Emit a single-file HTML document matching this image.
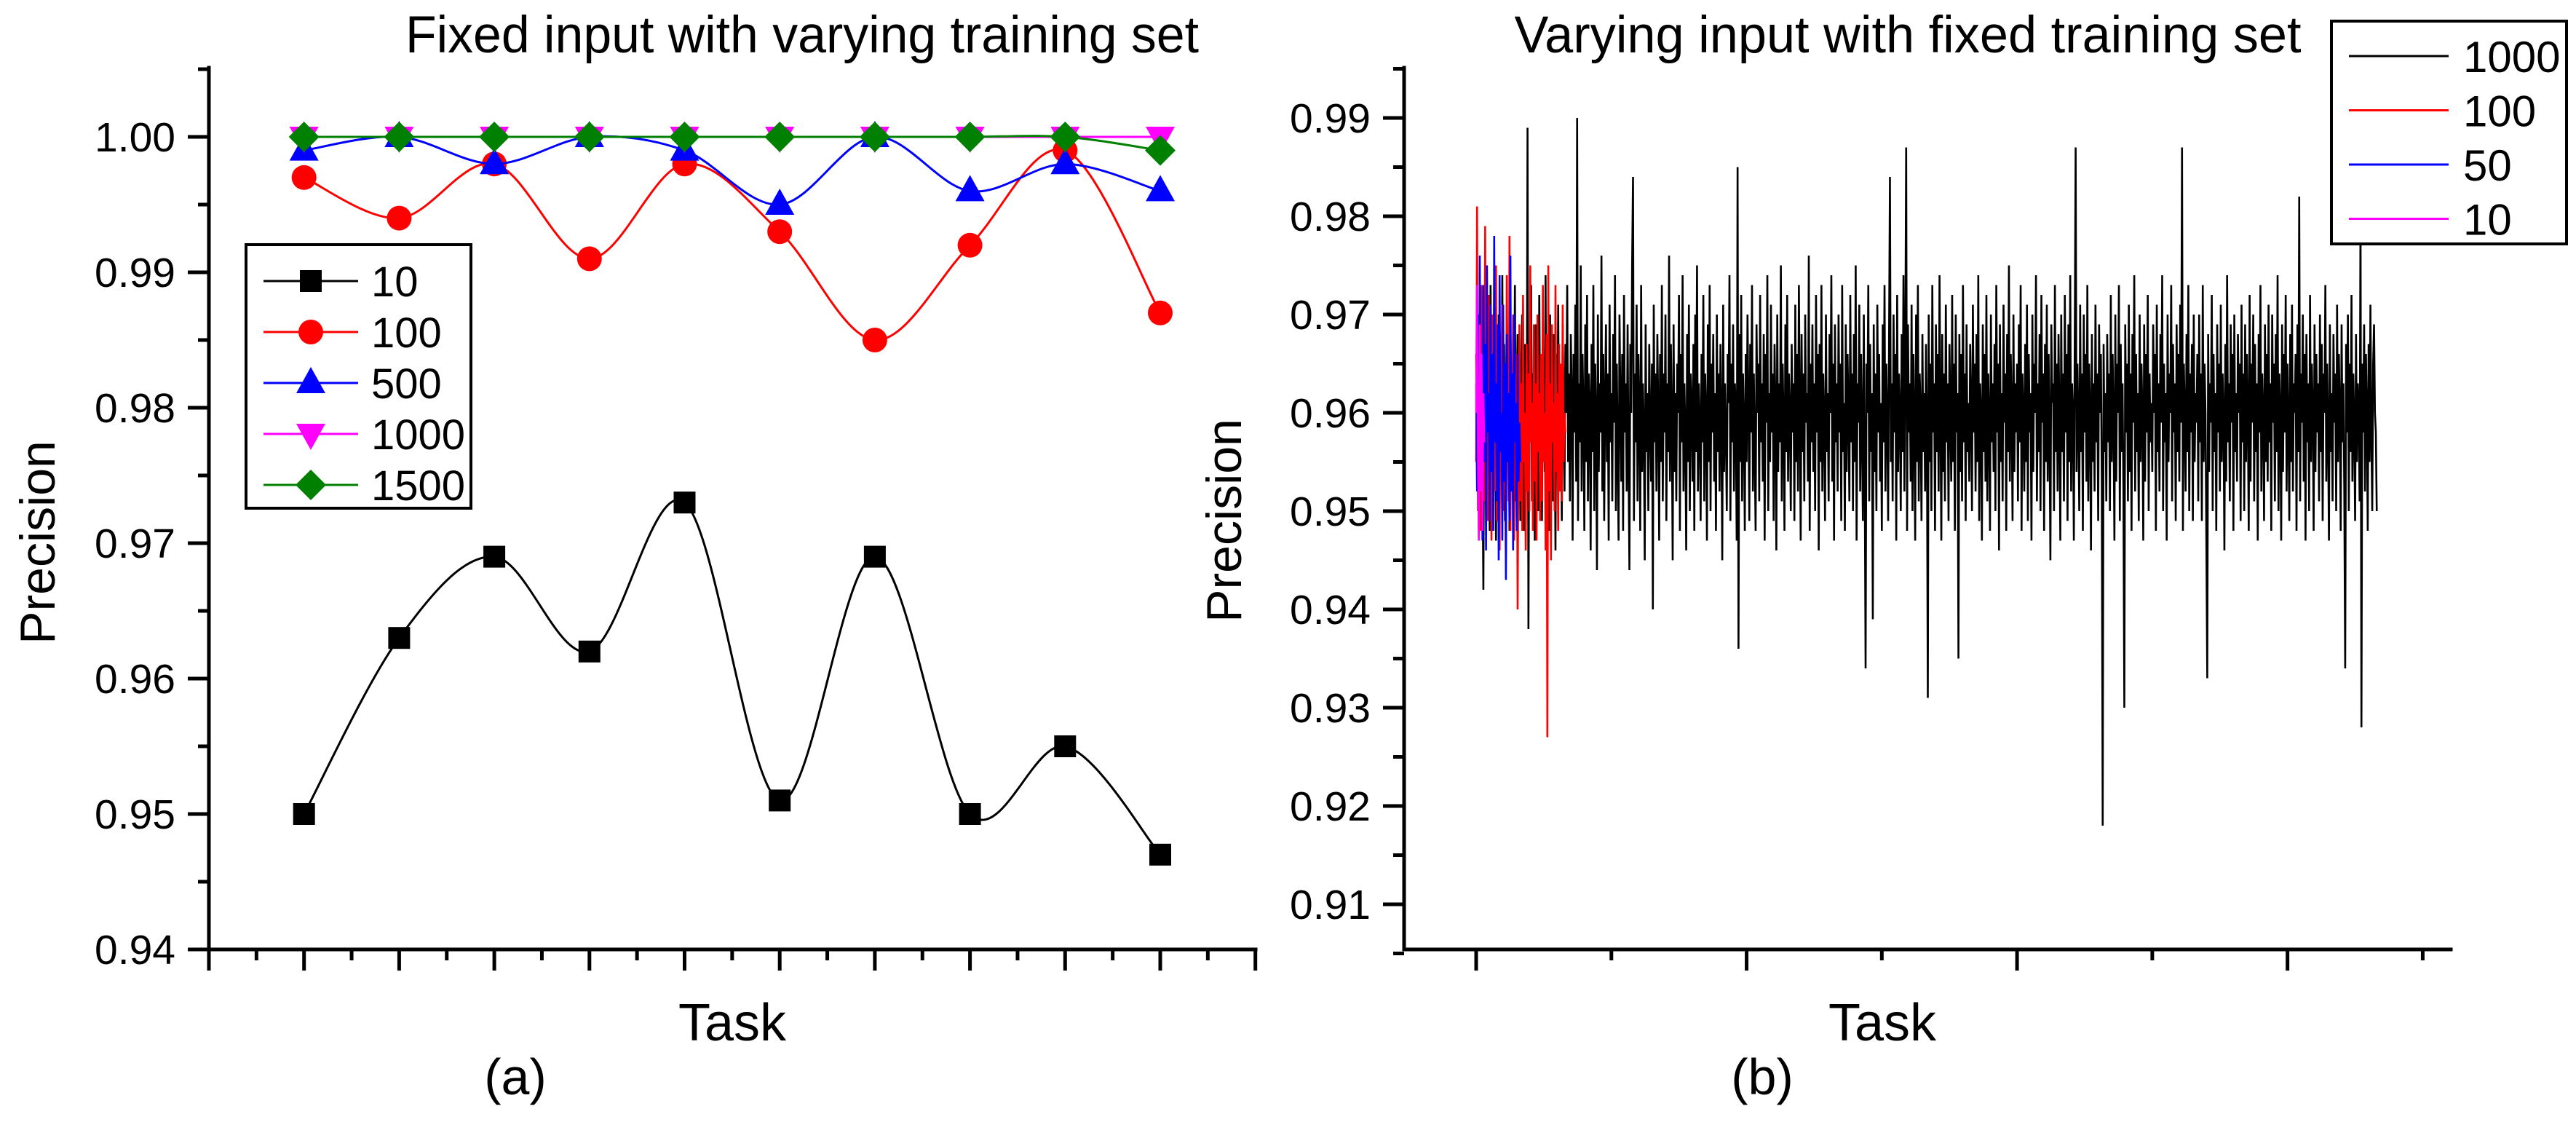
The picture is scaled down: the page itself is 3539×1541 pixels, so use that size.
<!DOCTYPE html>
<html><head><meta charset="utf-8"><style>
html,body{margin:0;padding:0;background:#fff;}
svg{display:block;font-family:"Liberation Sans",Arial,sans-serif;}
</style></head><body>
<svg id="fig" width="3539" height="1541" viewBox="0 0 3539 1541" xmlns="http://www.w3.org/2000/svg"></svg>
<script>
// ---------- Chart (a) data ----------
const tasksA = [1,2,3,4,5,6,7,8,9,10];
const seriesA_names = ["10","100","500","1000","1500"];
const s10   = [0.950,0.963,0.969,0.962,0.973,0.951,0.969,0.950,0.955,0.947];
const s100  = [0.997,0.994,0.998,0.991,0.998,0.993,0.985,0.992,0.999,0.987];
const s500  = [0.999,1.000,0.998,1.000,0.999,0.995,1.000,0.996,0.998,0.996];
const s1000 = [1.000,1.000,1.000,1.000,1.000,1.000,1.000,1.000,1.000,1.000];
const s1500 = [1.000,1.000,1.000,1.000,1.000,1.000,1.000,1.000,1.000,0.999];
const yTicksA = [0.94,0.95,0.96,0.97,0.98,0.99,1.00];
const yTickLabelsA = ["0.94","0.95","0.96","0.97","0.98","0.99","1.00"];

// ---------- Chart (b) data (values in thousandths above 0.903) ----------
const b1000 =
"63505844614766523960556948645745705362496658446351674760557150644658685261456657496354704859655162466067534564584986356255704861574466526347695560466458517149625645675360486557436352685061554666584964"+
"57705261486559446355685087466054724963574566526948615843645370476256416751605573496346586652614468545948655671476253446758506345695560496652416457728146615468486357457051605542665359476456506237685461"+
"49655744635270486155674660537350645642665159486257694563547149605543655268476158506445675372496056466354694861574466527047625565505945675361496456426851605547635871466254664960574482336552694861564563"+
"52675846645570496153456657624869546050654463567147595268556146645743675160547248625645665369506157476455604668526349705744655361486756595073456254665160476955634364527049615646675359486557715062446654"+
"60496755624670535845665163574869546147655272446056684963554667523162577048645359366651614768556350584566547049625746648152604867556344695161574765537149628445665560506847635644675270486157466553594964"+
"56286752624770556045665363497157446551614868546046645750695262456755593265516348705461466653585064574768556249655271466057446653635069486156456754605164477055624366525948685661456553725063574667516055"+
"62486654704561574964526846635559446751625771486053654769566145645268506355426658604770536249655644675361486955634666527149605744648451625647685361456755635070486257436552604968546146665763501564535948"+
"65546147695263564467506257704664536049276655624868516145655671496353594667526257446650635569476154585166576345685360496556714762545944675261577048645560466653635068568445625749655370476155644667525956"+
"63486754614670526257443065516056694763535945665562496852615743645071546048665663456753595065576246685461476652635745695062566748645360446555704961574666526350685460456756624865537147615744665163556949"+
"62564665526849605763456653794861566750634465546047695262574566516355604867536446615770506255446653594865566147685263574566546049316455674762536950615646655260574878256255664963574564526855476266575547";
const b100 = [0.955,0.981,0.950,0.969,0.962,0.948,0.973,0.957,0.964,0.951,0.979,0.955,0.967,0.949,0.972,0.958,0.961,0.947,0.970,0.954,0.966,0.952,0.975,0.949,0.963,0.957,0.946,0.968,0.953,0.971,0.950,0.962,0.956,0.945,0.974,0.959,0.951,0.978,0.948,0.964,0.955,0.970,0.947,0.961,0.953,0.966,0.940,0.958,0.969,0.951,0.963,0.948,0.972,0.955,0.960,0.946,0.967,0.952,0.964,0.950,0.975,0.957,0.961,0.948,0.969,0.953,0.963,0.947,0.970,0.956,0.962,0.949,0.966,0.951,0.973,0.955,0.960,0.946,0.968,0.927,0.975,0.952,0.963,0.945,0.969,0.957,0.961,0.950,0.973,0.954,0.962,0.948,0.967,0.952,0.965,0.951,0.971,0.955,0.960,0.958];
const b50 = [0.963,0.952,0.970,0.950,0.976,0.956,0.961,0.947,0.973,0.955,0.967,0.946,0.975,0.958,0.962,0.949,0.971,0.954,0.966,0.948,0.978,0.957,0.963,0.951,0.969,0.945,0.974,0.956,0.960,0.947,0.971,0.953,0.965,0.943,0.968,0.955,0.962,0.949,0.976,0.952,0.964,0.946,0.970,0.957,0.961,0.948,0.966,0.953,0.959,0.955];
const b10 = [0.960,0.973,0.955,0.947,0.969,0.952,0.966,0.948,0.962,0.957];
const yTicksB = [0.91,0.92,0.93,0.94,0.95,0.96,0.97,0.98,0.99];
const yTickLabelsB = ["0.91","0.92","0.93","0.94","0.95","0.96","0.97","0.98","0.99"];
const xTicksB = [0,150,300,450,600,750,900,1050];

const NS = "http://www.w3.org/2000/svg";
const svg = document.getElementById("fig");
function mk(tag, attrs, parent){
  const e = document.createElementNS(NS, tag);
  for (const k in attrs) e.setAttribute(k, attrs[k]);
  (parent||svg).appendChild(e);
  return e;
}
const xA = t => 287 + t*130.7;
const yA = v => 188 + (1.00 - v)*18600;
const xB = i => 2028 + i*1.2385;
const yB = v => 162 + (0.99 - v)*13500;

// ---------- Panel A ----------
const gA = mk("g", {});



let t = mk("text", {x:1102, y:72, "font-size":71, "text-anchor":"middle", textLength:1090, lengthAdjust:"spacingAndGlyphs"}, gA);
t.textContent = "Fixed input with varying training set";



let ax = mk("path", {d:"M287 93 L287 1304 L1725 1304", fill:"none", stroke:"#000", "stroke-width":5, "stroke-linecap":"square"}, gA);


for (let i=0;i<yTicksA.length;i++){
  const y = yA(yTicksA[i]);
  const tk = mk("line", {x1:258, x2:287, y1:y, y2:y, stroke:"#000", "stroke-width":5}, gA);
  
  
  const lb = mk("text", {x:241, y:y+20, "font-size":57, "text-anchor":"end"}, gA);
  lb.textContent = yTickLabelsA[i];
  
  
  const ym = yA(yTicksA[i]+0.005);
  if (ym > 95){
    const mt = mk("line", {x1:272, x2:287, y1:ym, y2:ym, stroke:"#000", "stroke-width":5}, gA);
    
    
  }
}
for (let k=0;k<=11;k++){
  const x = xA(k);
  const tk = mk("line", {x1:x, x2:x, y1:1304, y2:1333, stroke:"#000", "stroke-width":5}, gA);
  
  
  if (k<11){
    const xm = xA(k+0.5);
    const mt = mk("line", {x1:xm, x2:xm, y1:1304, y2:1319, stroke:"#000", "stroke-width":5}, gA);
    
    
  }
}
t = mk("text", {x:75, y:745, "font-size":68, "text-anchor":"middle", transform:"rotate(-90 75 745)"}, gA);
t.textContent = "Precision";


t = mk("text", {x:1006, y:1429, "font-size":72, "text-anchor":"middle"}, gA);
t.textContent = "Task";


t = mk("text", {x:708, y:1503, "font-size":70, "text-anchor":"middle"}, gA);
t.textContent = "(a)";



function smoothPath(xs, ys){
  let d = "M"+xs[0]+" "+ys[0];
  for (let i=0;i<xs.length-1;i++){
    const x0 = xs[Math.max(i-1,0)], y0 = ys[Math.max(i-1,0)];
    const x1 = xs[i], y1 = ys[i], x2 = xs[i+1], y2 = ys[i+1];
    const x3 = xs[Math.min(i+2,xs.length-1)], y3 = ys[Math.min(i+2,xs.length-1)];
    const c1x = x1+(x2-x0)/6, c1y = y1+(y2-y0)/6;
    const c2x = x2-(x3-x1)/6, c2y = y2-(y3-y1)/6;
    d += " C"+c1x+" "+c1y+" "+c2x+" "+c2y+" "+x2+" "+y2;
  }
  return d;
}
function marker(type, cx, cy, color, parent){
  let m;
  if (type==="square") m = mk("rect", {x:cx-15, y:cy-15, width:30, height:30, fill:color}, parent);
  else if (type==="circle") m = mk("circle", {cx:cx, cy:cy, r:17, fill:color}, parent);
  else if (type==="up") m = mk("polygon", {points:(cx-20)+","+(cy+14)+" "+(cx+20)+","+(cy+14)+" "+cx+","+(cy-22), fill:color}, parent);
  else if (type==="down") m = mk("polygon", {points:(cx-20)+","+(cy-14)+" "+(cx+20)+","+(cy-14)+" "+cx+","+(cy+22), fill:color}, parent);
  else m = mk("polygon", {points:(cx-21)+","+cy+" "+cx+","+(cy-21)+" "+(cx+21)+","+cy+" "+cx+","+(cy+21), fill:color}, parent);
  return m;
}
const seriesA = [s10, s100, s500, s1000, s1500];
const colorsA = ["#000000","#ff0000","#0000ff","#ff00ff","#008000"];
const markersA = ["square","circle","up","down","diamond"];
const slugA = ["s10","s100","s500","s1000","s1500"];
for (let s=0;s<seriesA.length;s++){
  const g = mk("g", {}, gA);
  
  
  const xs = tasksA.map(xA), ys = seriesA[s].map(yA);
  const p = mk("path", {d:smoothPath(xs,ys), fill:"none", stroke:colorsA[s], "stroke-width":3}, g);
  
  
  for (let i=0;i<xs.length;i++){
    const m = marker(markersA[s], xs[i], ys[i], colorsA[s], g);
    
    
  }
}
const lgA = mk("g", {}, gA);


let bx = mk("rect", {x:338, y:336, width:309, height:362, fill:"#fff", stroke:"#000", "stroke-width":4}, lgA);


for (let s=0;s<seriesA_names.length;s++){
  const y = 386 + s*70;
  const e = mk("g", {}, lgA);
  
  
  mk("line", {x1:362, x2:492, y1:y, y2:y, stroke:colorsA[s], "stroke-width":3}, e);
  marker(markersA[s], 427, y, colorsA[s], e);
  const lt = mk("text", {x:510, y:y+21, "font-size":58}, e);
  lt.textContent = seriesA_names[s];
}

// ---------- Panel B ----------
const gB = mk("g", {});


t = mk("text", {x:2621, y:72, "font-size":71, "text-anchor":"middle", textLength:1081, lengthAdjust:"spacingAndGlyphs"}, gB);
t.textContent = "Varying input with fixed training set";



const black = [];
for (let i=0;i+1<b1000.length;i+=2) black.push(0.903 + parseInt(b1000.substr(i,2),10)/1000);
const seriesB = [black, b100, b50, b10];
const colorsB = ["#000000","#ff0000","#0000ff","#ff00ff"];
const namesB = ["1000","100","50","10"];
const widthsB = [2.6,2.6,2.6,2.6];
for (let s=0;s<seriesB.length;s++){
  let d = "";
  seriesB[s].forEach((v,i)=>{ d += (i?" L":"M")+xB(i).toFixed(2)+" "+yB(v).toFixed(1); });
  const p = mk("path", {d:d, fill:"none", stroke:colorsB[s], "stroke-width":widthsB[s], "stroke-linejoin":"miter", "stroke-miterlimit":2}, gB);
  
  
}
ax = mk("path", {d:"M1929 93 L1929 1304 L3367 1304", fill:"none", stroke:"#000", "stroke-width":5, "stroke-linecap":"square"}, gB);


for (let i=0;i<yTicksB.length;i++){
  const y = yB(yTicksB[i]);
  const tk = mk("line", {x1:1900, x2:1929, y1:y, y2:y, stroke:"#000", "stroke-width":5}, gB);
  
  
  const lb = mk("text", {x:1883, y:y+20, "font-size":57, "text-anchor":"end"}, gB);
  lb.textContent = yTickLabelsB[i];
  
  
}
for (let v=0.905; v<0.996; v+=0.01){
  const y = yB(v);
  const mt = mk("line", {x1:1914, x2:1929, y1:y, y2:y, stroke:"#000", "stroke-width":5}, gB);
  
  
}
for (let k=0;k<xTicksB.length;k++){
  const x = xB(xTicksB[k]);
  const major = (xTicksB[k] % 300 === 0);
  const tk = mk("line", {x1:x, x2:x, y1:1304, y2:major?1333:1319, stroke:"#000", "stroke-width":5}, gB);
  
  
}
t = mk("text", {x:1705, y:715, "font-size":68, "text-anchor":"middle", transform:"rotate(-90 1705 715)"}, gB);
t.textContent = "Precision";


t = mk("text", {x:2586, y:1429, "font-size":72, "text-anchor":"middle"}, gB);
t.textContent = "Task";


t = mk("text", {x:2421, y:1503, "font-size":70, "text-anchor":"middle"}, gB);
t.textContent = "(b)";



const lgB = mk("g", {}, gB);


bx = mk("rect", {x:3203, y:29, width:323, height:306, fill:"#fff", stroke:"#000", "stroke-width":4}, lgB);


for (let s=0;s<namesB.length;s++){
  const y = 77 + s*74.5;
  const e = mk("g", {}, lgB);
  
  
  mk("line", {x1:3227, x2:3364, y1:y, y2:y, stroke:colorsB[s], "stroke-width":3}, e);
  const lt = mk("text", {x:3384, y:y+22, "font-size":60}, e);
  lt.textContent = namesB[s];
}
</script>
</body></html>
